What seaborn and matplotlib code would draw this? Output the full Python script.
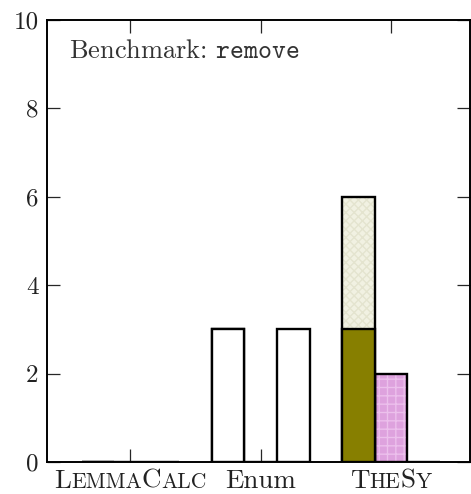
import matplotlib
matplotlib.use("Agg")
import matplotlib.pyplot as plt
import numpy as np
import pandas as pd
import seaborn as sns
from matplotlib.offsetbox import TextArea, HPacker, AnnotationBbox
from matplotlib.patches import Rectangle

# ---- data -------------------------------------------------------------
tools = ["LemmaCalc", "Enum", "TheSy"]
series = ["A", "B", "C"]
a_lower = [0, 3, 3]      # first slot, lower segment
a_upper = [0, 0, 3]      # first slot, stacked upper segment
b_vals = [0, 0, 2]       # middle slot
c_vals = [0, 3, 0]       # right slot
# tool names in small caps: (text, is_small)
tool_label_parts = [
    [("L", False), ("EMMA", True), ("C", False), ("ALC", True)],
    [("Enum", False)],
    [("T", False), ("HE", True), ("S", False), ("Y", True)],
]
y_ticks = [0, 2, 4, 6, 8, 10]
bench_name = "remove"

# ---- style ------------------------------------------------------------
sns.set_style("ticks")
plt.rcParams.update({
    "font.family": ["cmr10", "DejaVu Serif"],
    "mathtext.fontset": "cm",
    "axes.formatter.use_mathtext": True,
    "axes.linewidth": 1.4,
    "axes.edgecolor": "black",
    "hatch.linewidth": 1.0,
})

OLIVE = "#877f00"
LIGHT = "#f1f1e2"
LIGHT_HATCH = "#e4e4cf"
PINK = "#dea2de"
PINK_HATCH = "#ecc0ec"

# (tool, series) -> (face, hatch, hatch colour)
full_style = {
    ("Enum", "A"): ("white", None, None),
    ("Enum", "C"): ("white", None, None),
    ("TheSy", "A"): (LIGHT, "xxxx", LIGHT_HATCH),
    ("TheSy", "B"): (PINK, "++", PINK_HATCH),
}
lower_style = {
    ("Enum", "A"): ("white", None, None),
    ("TheSy", "A"): (OLIVE, None, None),
}

df_total = pd.DataFrame({
    "tool": tools * 3,
    "series": ["A"] * 3 + ["B"] * 3 + ["C"] * 3,
    "value": list(np.add(a_lower, a_upper)) + b_vals + c_vals,
})
df_lower = pd.DataFrame({"tool": tools, "series": ["A"] * 3, "value": a_lower})

fig = plt.figure(figsize=(4.71, 4.94), dpi=100)
ax = fig.add_axes([47 / 471, 32 / 494, 423 / 471, 442 / 494])

EDGE_LW = 1.7


def draw_layer(data, styles):
    n0 = len(ax.containers)
    sns.barplot(data=data, x="tool", y="value", hue="series", order=tools,
                hue_order=series, width=0.75, dodge=True, legend=False,
                errorbar=None, ax=ax, edgecolor="black", linewidth=EDGE_LW)
    for cont in ax.containers[n0:]:
        for p in cont.patches:
            cx = p.get_x() + p.get_width() / 2
            ti = int(round(cx))
            off = cx - ti
            si = int(round(off / 0.25)) + 1
            key = (tools[ti], series[si])
            face, hatch, hcol = styles.get(key, ("white", None, None))
            p.set_facecolor(face)
            if hatch:
                p.set_hatch(hatch)
                p.set_edgecolor(hcol)
                p.set_linewidth(0)
                ax.add_patch(Rectangle((p.get_x(), p.get_y()), p.get_width(),
                                       p.get_height(), fill=False,
                                       edgecolor="black", linewidth=EDGE_LW,
                                       zorder=p.get_zorder()))


draw_layer(df_total, full_style)
draw_layer(df_lower, lower_style)

ax.set_xlim(-0.64, 2.605)
ax.set_ylim(0, 10)
ax.set_yticks(y_ticks)
ax.set_yticklabels([str(v) for v in y_ticks])
ax.set_xticks(range(len(tools)))
ax.set_xticklabels([""] * len(tools))
ax.set_xlabel("")
ax.set_ylabel("")
for s in ax.spines.values():
    s.set_visible(True)
    s.set_linewidth(1.4)
ax.tick_params(direction="in", length=9.5, width=0.9, top=True, right=True,
               labelsize=18, labelcolor="#222222", pad=6)

# small-caps category labels
BIG = 19.5
SMALL = BIG * 0.8
for i, parts in enumerate(tool_label_parts):
    areas = [TextArea(txt, textprops=dict(fontsize=SMALL if small else BIG,
                                           color="#222222"))
             for txt, small in parts]
    pack = HPacker(children=areas, align="baseline", pad=0, sep=0)
    ab = AnnotationBbox(pack, (i, 0), xycoords=ax.get_xaxis_transform(),
                        xybox=(0, -5), boxcoords="offset points",
                        box_alignment=(0.5, 1), frameon=False,
                        annotation_clip=False)
    ax.add_artist(ab)

ax.text(0.052, 0.914, "Benchmark: $\\mathtt{" + bench_name + "}$",
        transform=ax.transAxes, fontsize=19, color="#333333",
        ha="left", va="baseline")

fig.savefig("out.png", dpi=100)
